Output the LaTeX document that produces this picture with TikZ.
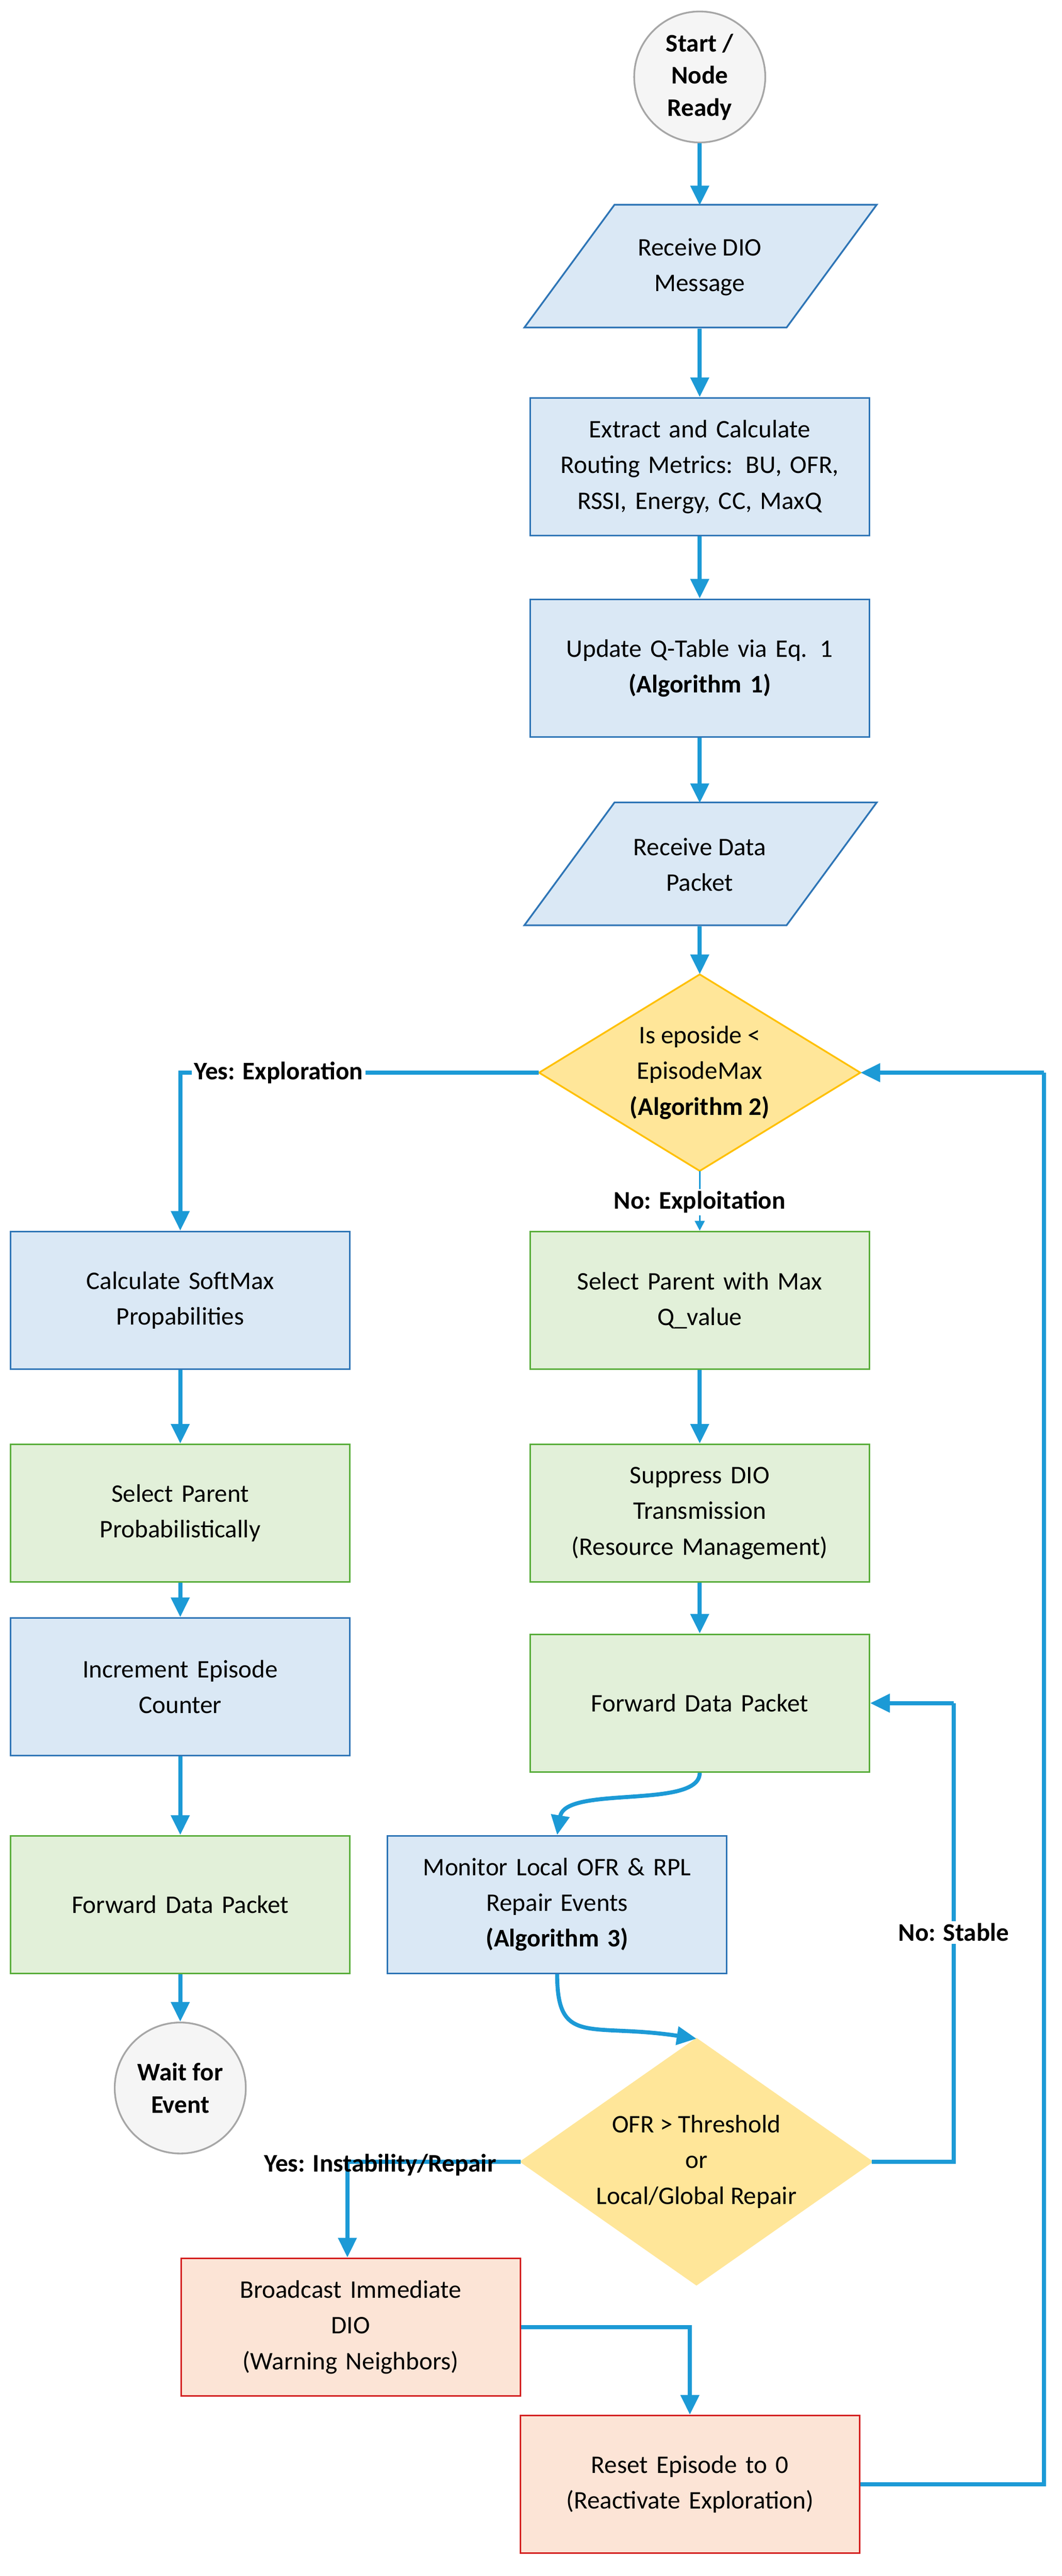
\documentclass[tikz,border=0pt]{standalone}
\usepackage{fontspec}
\setmainfont{Carlito}
\usetikzlibrary{arrows.meta,calc}
\definecolor{bfill}{HTML}{DAE8F5}\definecolor{bdraw}{HTML}{2E75B6}
\definecolor{gfill}{HTML}{E2F0D9}\definecolor{gdraw}{HTML}{5AAE3C}
\definecolor{yfill}{HTML}{FFE699}\definecolor{ydraw}{HTML}{FFC000}
\definecolor{rfill}{HTML}{FCE4D6}\definecolor{rdraw}{HTML}{D42020}
\definecolor{arr}{HTML}{1C9AD6}
\begin{document}
\begin{tikzpicture}[x=0.05cm,y=-0.05cm,
  font=\fontsize{22}{31}\selectfont,
  base/.style={align=center,text width=9.6cm,minimum width=10.35cm,minimum height=4.2cm,inner sep=0pt,line width=1.5pt},
  bbox/.style={base,draw=bdraw,fill=bfill},
  gbox/.style={base,draw=gdraw,fill=gfill},
  rbox/.style={base,draw=rdraw,fill=rfill},
  ghost/.style={align=center,inner sep=0pt},
  term/.style={circle,draw=gray!70,fill=gray!8,line width=1.5pt,minimum size=4cm,inner sep=0pt,align=center,font=\fontsize{22}{28}\selectfont\bfseries},
  ar/.style={draw=arr,line width=3.5pt,-{Triangle[length=0.6cm,width=0.55cm]}},
  ln/.style={draw=arr,line width=3.5pt},
  lab/.style={font=\fontsize{22}{28}\selectfont\bfseries,fill=white,inner sep=2pt}]
\useasboundingbox (0,0) rectangle (648,1573);
% parallelograms and diamonds
\filldraw[draw=bdraw,fill=bfill,line width=1.5pt] (375,125)--(535,125)--(480,200)--(320,200)--cycle;
\filldraw[draw=bdraw,fill=bfill,line width=1.5pt] (375,490)--(535,490)--(480,565)--(320,565)--cycle;
\filldraw[draw=ydraw,fill=yfill,line width=1.5pt] (427,595)--(525,655)--(427,715)--(329,655)--cycle;
\filldraw[draw=yfill,fill=yfill,line width=1.5pt] (425,1245)--(532,1320)--(425,1395)--(318,1320)--cycle;
\node[term] (start) at (427,47) {Start /\\Node\\Ready};
\node[ghost,minimum width=10.75cm,minimum height=3.75cm] (rdio) at (427,163) {Receive DIO\\Message};
\node[bbox] (ext) at (427,285) {Extract and Calculate Routing Metrics: BU, OFR, RSSI, Energy, CC, MaxQ};
\node[bbox] (upd) at (427,408) {Update Q-Table via Eq. 1\\\textbf{(Algorithm 1)}};
\node[ghost,minimum width=10.75cm,minimum height=3.75cm] (rdp) at (427,528) {Receive Data\\Packet};
\node[ghost,minimum width=9.8cm,minimum height=6cm] (d1) at (427,655) {Is eposide <\\EpisodeMax\\\textbf{(Algorithm 2)}};
\node[bbox] (soft) at (110,794) {Calculate SoftMax\\Propabilities};
\node[gbox] (selp) at (110,924) {Select Parent\\Probabilistically};
\node[bbox] (inc) at (110,1030) {Increment Episode\\Counter};
\node[gbox] (fwl) at (110,1163) {Forward Data Packet};
\node[term] (wait) at (110,1275) {Wait for\\Event};
\node[gbox] (selm) at (427,794) {Select Parent with Max\\Q\_value};
\node[gbox] (sup) at (427,924) {Suppress DIO\\Transmission\\(Resource Management)};
\node[gbox] (fwr) at (427,1040) {Forward Data Packet};
\node[bbox] (mon) at (340,1163) {Monitor Local OFR \& RPL\\Repair Events\\\textbf{(Algorithm 3)}};
\node[ghost,minimum width=10.7cm,minimum height=7.5cm] (d2) at (425,1320) {OFR > Threshold\\or\\Local/Global Repair};
\node[rbox,text width=9.8cm] (bc) at (214,1421) {Broadcast Immediate\\DIO\\(Warning Neighbors)};
\node[rbox,text width=9.8cm] (rst) at (421,1517) {Reset Episode to 0\\(Reactivate Exploration)};
% connectors
\draw[ar] (start) -- (rdio);
\draw[ar] (rdio) -- (ext);
\draw[ar] (ext) -- (upd);
\draw[ar] (upd) -- (rdp);
\draw[ar] (rdp) -- (d1);
\draw[ar] (d1.west) -| (soft.north);
\node[lab] at (170,655) {Yes: Exploration};
\draw[ar] (soft) -- (selp);
\draw[ar] (selp) -- (inc);
\draw[ar] (inc) -- (fwl);
\draw[ar] (fwl) -- (wait);
\draw[ar,line width=1.5pt,-{Triangle[length=0.3cm,width=0.3cm]}] (d1.south) -- (selm.north);
\node[lab] at (427,734) {No: Exploitation};
\draw[ar] (selm) -- (sup);
\draw[ar] (sup) -- (fwr);
\draw[ar] (fwr.south) .. controls (427,1105) and (345,1090) .. (mon.north);
\draw[ar] (mon.south) .. controls (340,1250) and (360,1235) .. (d2.north);
\draw[ln] (d2.east) -- (582,1320) -- (582,1040);
\draw[ar] (582,1040) -- (fwr.east);
\node[lab] at (582,1180) {No: Stable};
\draw[ln] (d2.west) -- (212,1320);
\draw[ar] (212,1320) -- (bc.north -| 212,0);
\node[lab,fill=none] at (232,1322) {Yes: Instability/Repair};
\draw[ar] (bc.east) -| (rst.north);
\draw[ln] (rst.east) -- (637,1517) -- (637,655);
\draw[ar] (637,655) -- (d1.east);
\end{tikzpicture}
\end{document}
